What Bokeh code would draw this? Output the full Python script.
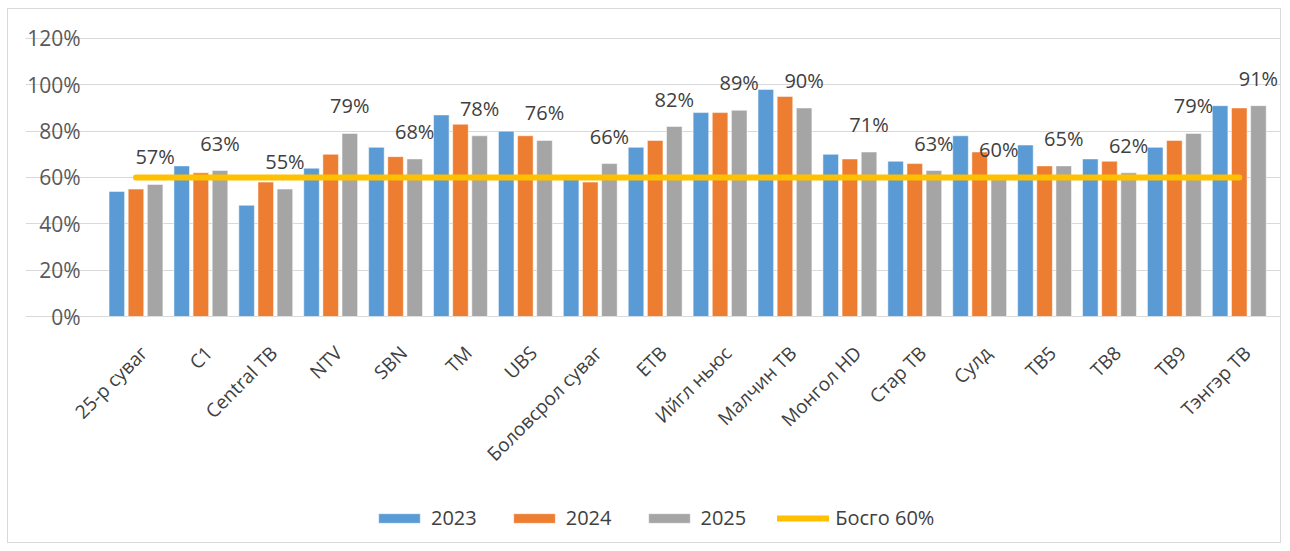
import math
from bokeh.plotting import figure
from bokeh.models import (ColumnDataSource, Range1d, Legend, LegendItem,
                          LabelSet, FixedTicker)
from bokeh.transform import dodge
from bokeh.core.properties import value
from bokeh.embed import file_html
from bokeh.resources import INLINE

categories = ["25-р суваг", "C1", "Central ТВ", "NTV", "SBN", "TM", "UBS",
              "Боловсрол суваг", "ЕТВ", "Ийгл ньюс", "Малчин ТВ", "Монгол HD",
              "Стар ТВ", "Сулд", "ТВ5", "ТВ8", "ТВ9", "Тэнгэр ТВ"]
v2023 = [0.54, 0.65, 0.48, 0.64, 0.73, 0.87, 0.80, 0.60, 0.73, 0.88, 0.98, 0.70,
         0.67, 0.78, 0.74, 0.68, 0.73, 0.91]
v2024 = [0.55, 0.62, 0.58, 0.70, 0.69, 0.83, 0.78, 0.58, 0.76, 0.88, 0.95, 0.68,
         0.66, 0.71, 0.65, 0.67, 0.76, 0.90]
v2025 = [0.57, 0.63, 0.55, 0.79, 0.68, 0.78, 0.76, 0.66, 0.82, 0.89, 0.90, 0.71,
         0.63, 0.60, 0.65, 0.62, 0.79, 0.91]
threshold = [0.60] * len(categories)
series_names = ["2023", "2024", "2025"]
threshold_name = "Босго 60%"
y_ticks = [0, 0.2, 0.4, 0.6, 0.8, 1.0, 1.2]

src = ColumnDataSource(dict(
    idx=list(range(len(categories))), cat=categories,
    v2023=v2023, v2024=v2024, v2025=v2025, thr=threshold,
    lbl=[f"{round(v * 100)}%" for v in v2025],
))
ysrc = ColumnDataSource(dict(y=y_ticks, t=[f"{round(v * 100)}%" for v in y_ticks]))

FONT = "Open Sans"
n = len(categories)
# the frame covers the whole drawing so that every text sits inside it
p = figure(x_range=Range1d(-1.702, 17.666), y_range=Range1d(-0.984, 1.325),
           width=1274, height=535, output_backend="svg", toolbar_location=None,
           min_border_left=17, min_border_right=0, min_border_top=0, min_border_bottom=0)
p.margin = (8, 0, 0, 7)
p.styles = {"border": "1px solid #d9d9d9"}
p.outline_line_color = None
p.background_fill_color = "white"
p.xaxis.visible = False
p.yaxis.visible = False

p.xgrid.grid_line_color = None
p.ygrid.ticker = FixedTicker(ticks=y_ticks)
p.ygrid.bounds = (-0.5, n - 0.5)
p.ygrid.grid_line_color = "#d9d9d9"
p.ygrid.grid_line_width = 1

colors = ["#5B9BD5", "#ED7D31", "#A5A5A5"]
offsets = [-0.295, 0.0, 0.295]
renderers = []
for col, c, off in zip(["v2023", "v2024", "v2025"], colors, offsets):
    r = p.vbar(x=dodge("idx", off), top=col, width=0.24, source=src,
               fill_color=c, line_color="white", line_width=0.5)
    renderers.append(r)

line_r = p.line(x="idx", y="thr", source=src, line_color="#FFC000", line_width=6,
                line_cap="round")

# value labels of 2025
p.add_layout(LabelSet(x=dodge("idx", 0.295), y="v2025", text="lbl", source=src,
                      text_align="center", text_baseline="alphabetic", y_offset=20,
                      text_font=value(FONT), text_font_size="20px", text_color="#404040"))

# category labels, rotated 45 degrees under the zero line
p.add_layout(LabelSet(x="idx", y=0, text="cat", source=src, angle=math.pi / 4,
                      text_align="right", text_baseline="middle", x_offset=8, y_offset=-33,
                      text_font=value(FONT), text_font_size="19px", text_color="#404040"))

# y tick labels
p.add_layout(LabelSet(x=-0.5, y="y", text="t", source=ysrc, x_offset=-23,
                      text_align="right", text_baseline="middle",
                      text_font=value(FONT), text_font_size="21px", text_color="#595959"))

items = [LegendItem(label=s, renderers=[r]) for s, r in zip(series_names, renderers)]
items.append(LegendItem(label=threshold_name, renderers=[line_r]))
legend = Legend(items=items, orientation="horizontal", location=(348, 13),
                glyph_width=52, glyph_height=12, label_standoff=6, spacing=31,
                padding=0, margin=0, border_line_color=None, background_fill_alpha=0,
                label_text_font=FONT, label_text_font_size="20px",
                label_text_color="#404040", label_height=12)
p.add_layout(legend, "center")

open("out.html", "w").write(file_html(p, INLINE))
